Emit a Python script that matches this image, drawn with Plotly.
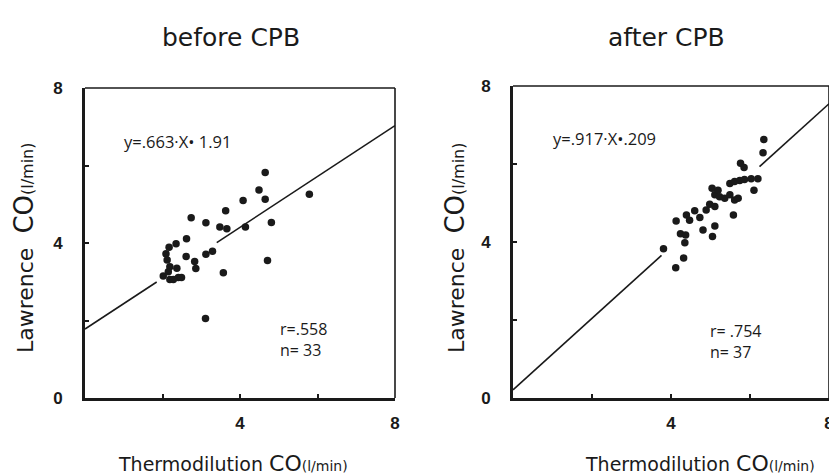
import plotly.graph_objects as go

# ---- data ----
before_x = [4.65, 4.49, 4.65, 4.08, 5.79, 3.63, 2.74, 3.12, 3.48, 3.66, 4.14, 4.81,
            2.62, 2.35, 2.17, 2.09, 2.61, 3.12, 3.29, 2.83, 2.86, 2.12, 2.19, 2.37,
            2.02, 2.19, 2.41, 3.57, 4.71, 3.11, 2.15, 2.28, 2.49]
before_y = [5.82, 5.37, 5.13, 5.10, 5.26, 4.83, 4.65, 4.52, 4.41, 4.37, 4.41, 4.53,
            4.11, 3.98, 3.89, 3.72, 3.65, 3.71, 3.79, 3.52, 3.34, 3.56, 3.39, 3.35,
            3.15, 3.06, 3.11, 3.23, 3.55, 2.05, 3.26, 3.06, 3.11]

after_x = [6.35, 6.33, 5.76, 5.85, 5.49, 5.61, 5.74, 5.86, 6.03, 6.20, 6.10, 5.04,
           5.11, 5.23, 5.36, 5.61, 4.98, 5.11, 5.58, 4.60, 4.73, 4.39, 4.47, 4.13,
           4.81, 5.11, 5.05, 4.24, 4.37, 4.35, 3.81, 4.32, 4.12, 5.19, 5.49, 4.89, 5.70]
after_y = [6.63, 6.29, 6.02, 5.91, 5.50, 5.55, 5.58, 5.60, 5.62, 5.62, 5.33, 5.38,
           5.21, 5.16, 5.12, 5.08, 4.97, 4.91, 4.69, 4.80, 4.63, 4.69, 4.56, 4.54,
           4.31, 4.41, 4.14, 4.21, 4.18, 3.98, 3.83, 3.59, 3.34, 5.33, 5.21, 4.82, 5.12]

# regression lines as drawn (slope, intercept) and drawn segment x-ranges
before_fit = [0.656, 1.78]
before_seg_x = [0.0, 1.85, None, 3.40, 8.0]
after_fit = [0.917, 0.209]
after_seg_x = [0.0, 3.76, None, 6.24, 8.0]

tick_vals = [0, 2, 4, 6, 8]
x_tick_text = ["", "", "4", "", "8"]
y_tick_text = ["0", "", "4", "", "8"]

titles = ["before CPB", "after CPB"]
equations = ["y=.663·X• 1.91", "y=.917·X•.209"]
stats = ["r=.558<br>n= 33", "r= .754<br>n= 37"]


def line_y(xs, fit):
    return [None if v is None else fit[0] * v + fit[1] for v in xs]


W, H = 837, 476
OFF = 8  # page body margin of the browser
FONT = "DejaVu Sans"
FONT2 = "Open Sans"
INK = "#1a1a1a"

fig = go.Figure()
fig.add_trace(go.Scatter(x=before_x, y=before_y, mode="markers",
                         marker=dict(color=INK, size=7.5), xaxis="x", yaxis="y"))
fig.add_trace(go.Scatter(x=before_seg_x, y=line_y(before_seg_x, before_fit), mode="lines",
                         line=dict(color=INK, width=1.6), connectgaps=False,
                         xaxis="x", yaxis="y"))
fig.add_trace(go.Scatter(x=after_x, y=after_y, mode="markers",
                         marker=dict(color=INK, size=7.5), xaxis="x2", yaxis="y2"))
fig.add_trace(go.Scatter(x=after_seg_x, y=line_y(after_seg_x, after_fit), mode="lines",
                         line=dict(color=INK, width=1.6), connectgaps=False,
                         xaxis="x2", yaxis="y2"))

ax_common = dict(range=[0, 8], tickvals=tick_vals, ticks="inside", ticklen=4,
                 tickwidth=1.5, tickcolor=INK, showgrid=False, zeroline=False,
                 showline=True, linecolor=INK, linewidth=3, mirror=False,
                 automargin=False,
                 tickfont=dict(family="Liberation Sans", size=17, color=INK, weight="bold"),
                 fixedrange=True)


def px2fx(p):
    return (p - OFF) / W


def py2fy(p):
    return 1 - (p - OFF) / H


fig.update_layout(
    width=W, height=H, margin=dict(l=0, r=0, t=0, b=0, autoexpand=False),
    paper_bgcolor="white", plot_bgcolor="white", showlegend=False,
    xaxis=dict(ax_common, domain=[px2fx(85), px2fx(395)], ticktext=x_tick_text,
               anchor="y", ticklabelstandoff=8),
    yaxis=dict(ax_common, domain=[py2fy(398), py2fy(88)], ticktext=y_tick_text,
               anchor="x", ticklabelstandoff=16),
    xaxis2=dict(ax_common, domain=[px2fx(513), px2fx(829)], ticktext=x_tick_text,
                anchor="y2", ticklabelstandoff=8),
    yaxis2=dict(ax_common, domain=[py2fy(398), py2fy(86)], ticktext=y_tick_text,
                anchor="x2", ticklabelstandoff=16),
)

# top/right thin frame lines
for xr, yr in (("x domain", "y domain"), ("x2 domain", "y2 domain")):
    fig.add_shape(type="line", xref=xr, yref=yr, x0=0, x1=1, y0=1, y1=1,
                  line=dict(color=INK, width=1.6))
    fig.add_shape(type="line", xref=xr, yref=yr, x0=1, x1=1, y0=0, y1=1,
                  line=dict(color=INK, width=1.6))

ann = []
# panel titles
for cx, t in zip((231, 666), titles):
    ann.append(dict(x=px2fx(cx), y=py2fy(37), xref="paper", yref="paper", text=t,
                    showarrow=False, xanchor="center", yanchor="middle",
                    font=dict(family=FONT, size=25, color=INK)))
# equations
for (xa, ya), (ex, ey), t in zip((("x", "y"), ("x2", "y2")), ((0.95, 6.62), (0.95, 6.65)), equations):
    ann.append(dict(x=ex, y=ey, xref=xa, yref=ya, text=t, showarrow=False,
                    xanchor="left", yanchor="middle",
                    font=dict(family=FONT2, size=16.5, color=INK)))
# stats
for (xa, ya), (sx, sy), t in zip((("x", "y"), ("x2", "y2")), ((4.98, 1.5), (4.93, 1.45)), stats):
    ann.append(dict(x=sx, y=sy, xref=xa, yref=ya, text=t, showarrow=False,
                    xanchor="left", yanchor="middle",
                    align="left", font=dict(family=FONT2, size=16, color=INK)))
# x-axis titles
xt = ("Thermodilution <span style='font-size:22px'>CO</span>"
      "<span style='font-size:14px'>(l/min)</span>")
for cx in (233, 700):
    ann.append(dict(x=px2fx(cx), y=py2fy(463), xref="paper", yref="paper", text=xt,
                    showarrow=False, xanchor="center", yanchor="middle",
                    font=dict(family=FONT, size=19, color=INK)))
# y-axis titles
yt = ("Lawrence  <span style='font-size:26px'>CO</span>"
      "<span style='font-size:16px'>(l/min)</span>")
for cx in (24, 455):
    ann.append(dict(x=px2fx(cx), y=py2fy(248), xref="paper", yref="paper", text=yt,
                    textangle=-90, showarrow=False, xanchor="center", yanchor="middle",
                    font=dict(family=FONT, size=22, color=INK)))

fig.update_layout(annotations=ann)
fig.write_html("out.html")
